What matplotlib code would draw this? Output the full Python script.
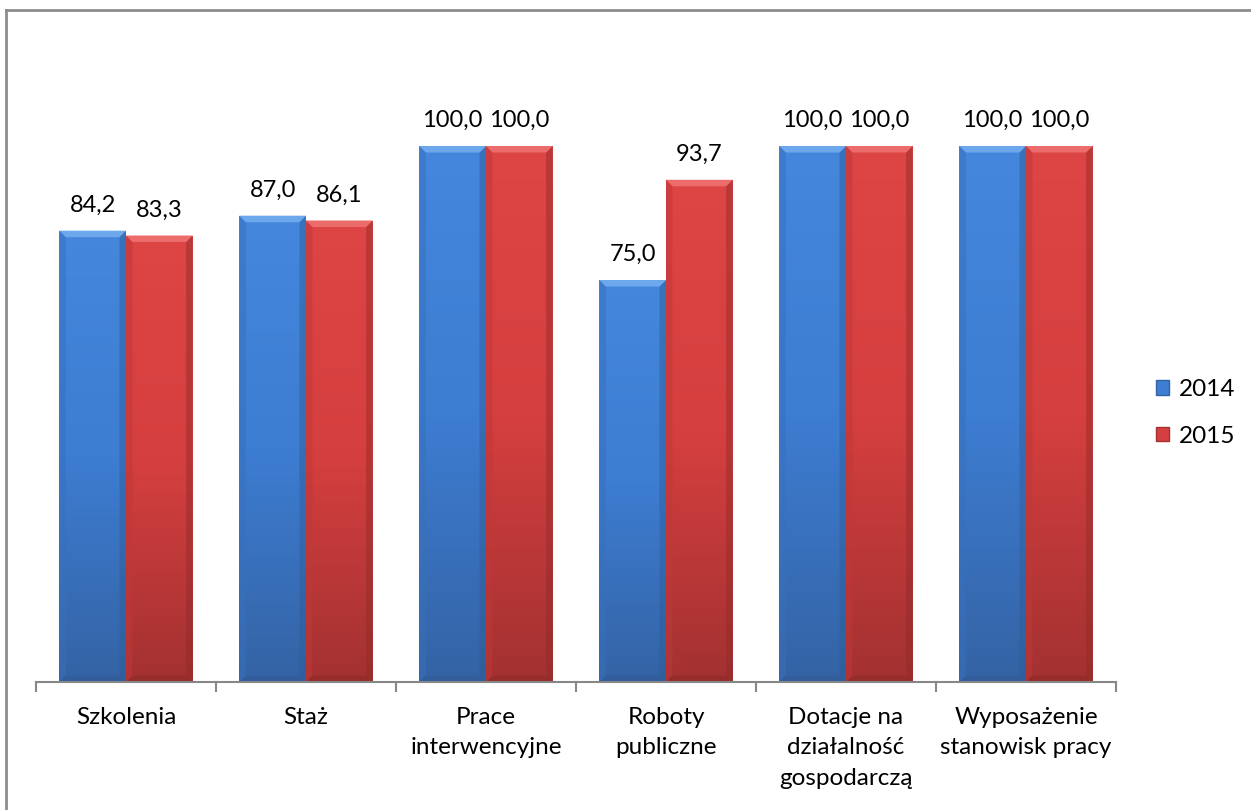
import matplotlib
import numpy as np

matplotlib.use("Agg")

import matplotlib.pyplot as plt
from matplotlib.lines import Line2D
from matplotlib.patches import Patch, Polygon

categories = [
    "Szkolenia",
    "Staż",
    "Prace\ninterwencyjne",
    "Roboty\npubliczne",
    "Dotacje na\ndziałalność\ngospodarczą",
    "Wyposażenie\nstanowisk pracy",
]
series_names = ["2014", "2015"]
values_2014 = [84.2, 87.0, 100.0, 75.0, 100.0, 100.0]
values_2015 = [83.3, 86.1, 100.0, 93.7, 100.0, 100.0]

plt.rcParams["font.family"] = ["Lato", "DejaVu Sans"]

W, H = 1251, 810
fig = plt.figure(figsize=(W / 100, H / 100), dpi=100)
fig.patch.set_facecolor("white")
ax = fig.add_axes([36 / W, 1 - 682 / H, 1080 / W, 643.2 / H])

x = np.arange(len(categories))
bar_w = 0.37
styles = [
    # base, top light, bottom dark, bevel top, bevel bottom, side
    ("#3d7dd2", "#4487dc", "#3463a4", "#6ea8ec", "#2f5a96", "#3870bd"),
    ("#d63f3f", "#de4545", "#a33131", "#ec6c6c", "#8e2a2a", "#c03838"),
]

ax.set_xlim(-0.5, len(categories) - 0.5)
ax.set_ylim(0, 120)

px = ax.transData.transform((1, 1)) - ax.transData.transform((0, 0))
bev_x = 6.5 / px[0]
bev_y = 6.5 / px[1]

grad = np.linspace(0, 1, 256).reshape(-1, 1)

for k, vals in enumerate([values_2014, values_2015]):
    offs = (k - 0.5) * bar_w
    base, light, dark, btop, bbot, side = styles[k]
    bars = ax.bar(x + offs, vals, width=bar_w, color=base, edgecolor="none", zorder=2)
    cmap = matplotlib.colors.LinearSegmentedColormap.from_list("g", [dark, base, light])
    for b, v in zip(bars, vals):
        x0, y0 = b.get_x(), b.get_y()
        x1, y1 = x0 + b.get_width(), y0 + b.get_height()
        im = ax.imshow(grad, cmap=cmap, extent=(x0, x1, y0, y1), origin="lower",
                       aspect="auto", zorder=2.1)
        im.set_clip_path(b)
        ax.add_patch(Polygon([(x0, y1), (x1, y1), (x1 - bev_x, y1 - bev_y), (x0 + bev_x, y1 - bev_y)],
                             closed=True, facecolor=btop, edgecolor="none", zorder=2.3))
        ax.add_patch(Polygon([(x0, y0), (x1, y0), (x1 - bev_x, y0 + bev_y), (x0 + bev_x, y0 + bev_y)],
                             closed=True, facecolor=bbot, edgecolor="none", alpha=0.6, zorder=2.3))
        ax.add_patch(Polygon([(x0, y0), (x0 + bev_x, y0 + bev_y), (x0 + bev_x, y1 - bev_y), (x0, y1)],
                             closed=True, facecolor=side, edgecolor="none", alpha=0.5, zorder=2.2))
        ax.add_patch(Polygon([(x1, y0), (x1 - bev_x, y0 + bev_y), (x1 - bev_x, y1 - bev_y), (x1, y1)],
                             closed=True, facecolor=bbot, edgecolor="none", alpha=0.45, zorder=2.2))
        ax.annotate(f"{v:.1f}".replace(".", ","), (b.get_x() + b.get_width() / 2, y1),
                    xytext=(0, 13.5), textcoords="offset points", ha="center", va="baseline",
                    fontsize=17, color="black")

for side_name in ["left", "right", "top"]:
    ax.spines[side_name].set_visible(False)
ax.spines["bottom"].set_color("#878787")
ax.spines["bottom"].set_linewidth(1.5)
ax.set_yticks([])

ax.set_xticks(np.arange(-0.5, len(categories)), labels=[""] * (len(categories) + 1))
ax.tick_params(axis="x", which="major", direction="out", length=7, width=1.5, color="#878787")
ax.set_xticks(x, labels=categories, minor=True)
ax.tick_params(axis="x", which="minor", length=0, pad=18, labelsize=17.5)
for lbl in ax.get_xticklabels(minor=True):
    lbl.set_linespacing(1.55)
    lbl.set_verticalalignment("top")

handles = [
    Patch(facecolor=styles[0][0], edgecolor=styles[0][2]),
    Patch(facecolor=styles[1][0], edgecolor=styles[1][2]),
]
ax.legend(handles, series_names, loc="center left", bbox_to_anchor=(1156 / W, 1 - 413 / H),
          bbox_transform=fig.transFigure, frameon=False, fontsize=17.5,
          handlelength=0.55, handleheight=0.55, handletextpad=0.4, labelspacing=1.05,
          borderpad=0, borderaxespad=0)

# outer chart frame (only top and left edges visible)
fig.add_artist(Line2D([6 / W, 1], [1 - 10 / H, 1 - 10 / H], color="#8c8c8c", lw=2, transform=fig.transFigure))
fig.add_artist(Line2D([6 / W, 6 / W], [0, 1 - 10 / H], color="#8c8c8c", lw=2, transform=fig.transFigure))

fig.savefig("out.png", dpi=100, facecolor="white")
